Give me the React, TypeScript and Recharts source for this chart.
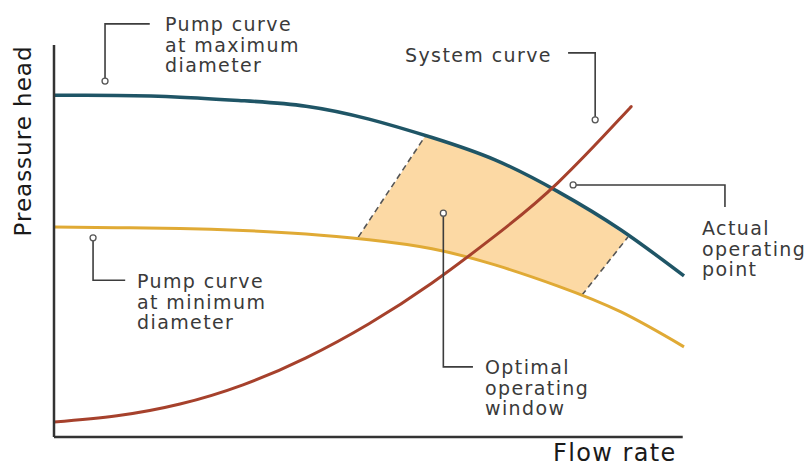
import React from 'react';
import { ComposedChart, Line, Area, Scatter, XAxis, YAxis, ReferenceLine } from 'recharts';

// flow rate steps shared by both pump curves
const flowSteps = [0, 10, 20, 30, 40, 50, 60, 70, 80, 90, 100];
const maxDiameterHead = [87.2, 87.1, 86.7, 85.8, 84.4, 81.1, 76.4, 70.7, 62.6, 52.8, 41.1];
const minDiameterHead = [53.6, 53.4, 53.2, 52.7, 51.8, 50.3, 48.0, 43.9, 38.5, 31.9, 23.0];

// system curve stops short of the right edge
const systemFlow = [0, 10, 20, 30, 40, 50, 60, 70, 80, 90, 91.4];
const systemHead = [3.8, 5.4, 8.4, 13.3, 20.2, 28.9, 39.3, 51.3, 64.9, 81.5, 83.9];

// optimal operating window (lower / upper edge)
const windowFlow = [48.3, 50, 55, 58.9, 60, 65, 70, 75, 80, 83.8, 87, 91.1];
const windowLow = [51.0, 50.3, 49.2, 48.4, 48.0, 46.2, 43.9, 41.3, 38.5, 36.2, 42.6, 51.0];
const windowHigh = [51.0, 55.0, 67.0, 76.7, 76.3, 73.7, 70.6, 66.9, 62.6, 58.7, 55.5, 51.0];

// dashed window boundaries
const leftEdgeFlow = [48.3, 58.9];
const leftEdgeHead = [51.0, 76.7];
const rightEdgeFlow = [83.8, 91.1];
const rightEdgeHead = [36.2, 51.0];

// callout leader lines (flow, head)
const maxCalloutFlow = [15.2, 8.1, 8.1];
const maxCalloutHead = [105.4, 105.4, 90.8];
const systemCalloutFlow = [81.6, 85.9, 85.9];
const systemCalloutHead = [98.0, 98.0, 80.9];
const actualCalloutFlow = [82.4, 106.5, 106.5];
const actualCalloutHead = [64.3, 64.3, 58.7];
const minCalloutFlow = [6.2, 6.2, 11.3];
const minCalloutHead = [50.8, 40.0, 40.0];
const optimalCalloutFlow = [61.8, 61.8, 66.5];
const optimalCalloutHead = [57.1, 17.9, 17.9];

const zip = (xs: number[], ys: number[]) => xs.map((x, i) => ({ x, y: ys[i] }));

const maxData = zip(flowSteps, maxDiameterHead);
const minData = zip(flowSteps, minDiameterHead);
const systemData = zip(systemFlow, systemHead);
const windowData = windowFlow.map((x, i) => ({ x, range: [windowLow[i], windowHigh[i]] }));

const callouts = [
  zip(maxCalloutFlow, maxCalloutHead),
  zip(systemCalloutFlow, systemCalloutHead),
  zip(actualCalloutFlow, actualCalloutHead),
  zip(minCalloutFlow, minCalloutHead),
  zip(optimalCalloutFlow, optimalCalloutHead),
];
// the small ring sits at the curve end of each leader
const rings = [
  callouts[0][2],
  callouts[1][2],
  callouts[2][0],
  callouts[3][0],
  callouts[4][0],
];

const textStyle: React.CSSProperties = {
  position: 'absolute',
  fontFamily: '"DejaVu Sans", sans-serif',
  fontSize: 19,
  lineHeight: '20.5px',
  letterSpacing: 1.4,
  color: '#3a3a3a',
  whiteSpace: 'nowrap',
};

const Ring = (props: any) => (
  <circle cx={props.cx} cy={props.cy} r={3} fill="#fff" stroke="#555" strokeWidth={1.3} />
);

export default function App() {
  return (
    <div style={{ position: 'absolute', left: 0, top: 0, width: 810, height: 468, background: '#fff' }}>
      <ComposedChart width={810} height={468} data={windowData} margin={{ top: 0, right: 0, bottom: 0, left: 0 }}>
        <XAxis type="number" dataKey="x" domain={[-8.571, 120]} hide allowDataOverflow />
        <YAxis type="number" domain={[-7.908, 111.48]} hide allowDataOverflow />

        <Area type="linear" dataKey="range" stroke="none" fill="#fcd9a4" fillOpacity={1}
          dot={false} activeDot={false} isAnimationActive={false} />
        <Line data={zip(leftEdgeFlow, leftEdgeHead)} dataKey="y" type="linear" stroke="#555" strokeWidth={1.6}
          strokeDasharray="6 4" dot={false} activeDot={false} isAnimationActive={false} />
        <Line data={zip(rightEdgeFlow, rightEdgeHead)} dataKey="y" type="linear" stroke="#555" strokeWidth={1.6}
          strokeDasharray="6 4" dot={false} activeDot={false} isAnimationActive={false} />

        <Line data={minData} dataKey="y" type="natural" stroke="#e0aa35" strokeWidth={3}
          dot={false} activeDot={false} isAnimationActive={false} />
        <Line data={maxData} dataKey="y" type="natural" stroke="#1f5566" strokeWidth={3.5}
          dot={false} activeDot={false} isAnimationActive={false} />
        <Line data={systemData} dataKey="y" type="natural" stroke="#a6412c" strokeWidth={3}
          dot={false} activeDot={false} isAnimationActive={false} />

        <ReferenceLine segment={[{ x: 0, y: 0 }, { x: 0, y: 100 }]} stroke="#333" strokeWidth={2.5} />
        <ReferenceLine segment={[{ x: 0, y: 0 }, { x: 99.8, y: 0 }]} stroke="#333" strokeWidth={2.5} />

        {callouts.map((pts, i) => (
          <Line key={i} data={pts} dataKey="y" type="linear" stroke="#3d3d3d" strokeWidth={1.6}
            dot={false} activeDot={false} isAnimationActive={false} />
        ))}
        <Scatter data={rings} dataKey="y" shape={Ring} isAnimationActive={false} />
      </ComposedChart>

      <div style={{ ...textStyle, left: 165, top: 14 }}>Pump curve<br />at maximum<br />diameter</div>
      <div style={{ ...textStyle, left: 405, top: 45 }}>System curve</div>
      <div style={{ ...textStyle, left: 702, top: 218 }}>Actual<br />operating<br />point</div>
      <div style={{ ...textStyle, left: 137, top: 271 }}>Pump curve<br />at minimum<br />diameter</div>
      <div style={{ ...textStyle, left: 485, top: 357 }}>Optimal<br />operating<br />window</div>

      <div style={{ ...textStyle, left: 553, top: 441, fontSize: 24, lineHeight: '24px', color: '#1a1a1a' }}>Flow rate</div>
      <div
        style={{
          ...textStyle,
          left: 23,
          top: 141,
          fontSize: 23,
          lineHeight: '26px',
          letterSpacing: 1.0,
          color: '#1a1a1a',
          transform: 'translate(-50%, -50%) rotate(-90deg)',
        }}
      >
        Preassure head
      </div>
    </div>
  );
}
